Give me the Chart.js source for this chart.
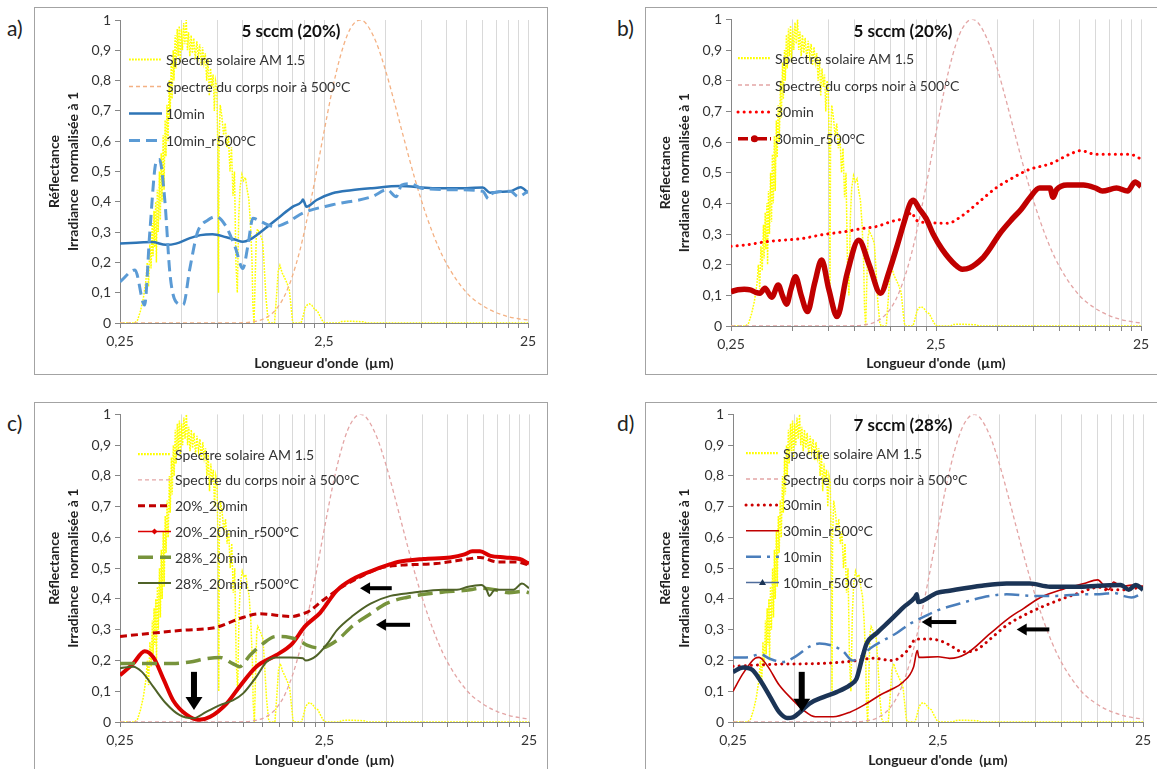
<!DOCTYPE html>
<html>
<head>
<meta charset="utf-8">
<script src="https://cdn.jsdelivr.net/npm/chart.js@4.4.0/dist/chart.umd.min.js"></script>
<style>
body{margin:0;background:#fff;width:1157px;height:769px;position:relative;overflow:hidden;font-family:Lato,sans-serif}
.box{position:absolute}
.frame{position:absolute;border:1.5px solid #a3a3a3;box-sizing:border-box;pointer-events:none}
.tag{position:absolute;font-size:21px;line-height:21px;color:#222}
</style>
</head>
<body>
<div class="frame" style="left:34px;top:7px;width:514px;height:368px"></div>
<div class="frame" style="left:645px;top:7px;width:530px;height:368px"></div>
<div class="frame" style="left:34px;top:402px;width:514px;height:400px"></div>
<div class="frame" style="left:645px;top:402px;width:530px;height:400px"></div>
<div class="tag" style="left:7px;top:17px">a)</div>
<div class="tag" style="left:617px;top:17px">b)</div>
<div class="tag" style="left:7px;top:412px">c)</div>
<div class="tag" style="left:617px;top:412px">d)</div>
<div class="box" style="left:34px;top:7px"><canvas id="ca" width="513" height="367"></canvas></div>
<div class="box" style="left:645px;top:7px"><canvas id="cb" width="512" height="367"></canvas></div>
<div class="box" style="left:34px;top:402px"><canvas id="cc" width="513" height="367"></canvas></div>
<div class="box" style="left:645px;top:402px"><canvas id="cd" width="512" height="367"></canvas></div>
<script>
// axis ticks
const xTicks = [0.25,0.5,0.75,1,1.25,1.5,1.75,2,2.25,2.5,5,7.5,10,12.5,15,17.5,20,22.5,25];
const xLabelled = [0.25,2.5,25];

// spectre solaire AM 1.5 (normalise)
const solarWl = [0.25,0.295,0.305,0.315,0.325,0.335,0.34,0.345,0.35,0.355,0.36,0.363,0.367,0.37,0.374,0.377,0.381,0.385,0.39,0.394,0.398,0.402,0.407,0.411,0.416,0.42,0.425,0.43,0.436,0.44,0.446,0.45,0.456,0.46,0.466,0.47,0.477,0.482,0.488,0.493,0.5,0.506,0.513,0.52,0.528,0.535,0.542,0.55,0.558,0.566,0.575,0.585,0.595,0.605,0.615,0.625,0.635,0.645,0.655,0.665,0.675,0.685,0.695,0.705,0.715,0.725,0.735,0.745,0.755,0.76,0.765,0.775,0.79,0.805,0.82,0.835,0.85,0.865,0.88,0.895,0.91,0.925,0.94,0.955,0.97,0.99,1.01,1.03,1.05,1.07,1.09,1.11,1.12,1.135,1.15,1.165,1.18,1.2,1.22,1.25,1.27,1.3,1.33,1.35,1.43,1.46,1.49,1.52,1.56,1.6,1.65,1.69,1.72,1.75,1.77,1.93,1.97,2.02,2.07,2.12,2.18,2.25,2.32,2.4,2.48,2.55,2.95,3.05,3.3,3.6,3.9,4.05,25];
const solarVal = [0,0,0.01,0.04,0.08,0.14,0.2,0.12,0.26,0.18,0.33,0.22,0.37,0.25,0.4,0.2,0.44,0.3,0.5,0.34,0.56,0.4,0.62,0.44,0.67,0.55,0.72,0.6,0.8,0.68,0.86,0.74,0.9,0.8,0.95,0.84,0.97,0.88,0.98,0.86,0.97,0.9,0.99,0.92,1.0,0.9,0.96,0.88,0.95,0.89,0.94,0.87,0.93,0.88,0.92,0.85,0.91,0.86,0.89,0.8,0.87,0.75,0.84,0.78,0.82,0.7,0.8,0.78,0.55,0.1,0.6,0.72,0.68,0.62,0.66,0.58,0.62,0.5,0.58,0.42,0.5,0.2,0.1,0.35,0.45,0.49,0.47,0.48,0.44,0.41,0.33,0.2,0.06,0,0.15,0.29,0.31,0.3,0.29,0.27,0.2,0.08,0.01,0,0,0.08,0.17,0.19,0.165,0.15,0.13,0.11,0.06,0.01,0,0,0.02,0.05,0.06,0.063,0.058,0.045,0.04,0.02,0.003,0,0,0.005,0.006,0.005,0.004,0,0];

// spectre du corps noir a 500 C (normalise)
const bbWl = [0.25,0.5,0.75,1.0,1.1,1.25,1.4,1.5,1.6,1.75,1.9,2.0,2.25,2.5,2.75,3.0,3.25,3.5,3.75,4.0,4.5,5,5.5,6,7,8,9,10,12.5,15,17.5,20,22.5,25];
const bbVal = [0,0,0,0.001,0.003,0.012,0.033,0.057,0.089,0.155,0.237,0.3,0.467,0.631,0.772,0.878,0.95,0.988,1.0,0.99,0.927,0.835,0.735,0.638,0.472,0.348,0.258,0.194,0.1,0.057,0.034,0.021,0.014,0.01];

// a) 5 sccm (20%)
const a10Wl = [0.25,0.3,0.36,0.42,0.47,0.55,0.62,0.71,0.83,0.92,1.0,1.08,1.26,1.52,1.76,1.94,1.97,2.05,2.3,2.75,3.4,4.3,5.9,8.5,12.5,15,16.3,18,20.5,23,25];
const a10Val = [0.262,0.265,0.267,0.258,0.262,0.28,0.29,0.293,0.283,0.275,0.268,0.275,0.307,0.351,0.384,0.4,0.408,0.384,0.406,0.428,0.438,0.445,0.452,0.445,0.445,0.447,0.43,0.433,0.435,0.448,0.43];
const a10rWl = [0.25,0.296,0.33,0.35,0.376,0.39,0.414,0.44,0.47,0.51,0.55,0.6,0.675,0.74,0.82,0.92,1.0,1.06,1.12,1.23,1.43,1.67,1.97,2.75,4.3,5.1,5.65,6.0,6.6,7.5,10.4,15,16,16.9,20.5,22.4,25];
const a10rVal = [0.136,0.175,0.059,0.3,0.532,0.54,0.41,0.158,0.07,0.06,0.18,0.3,0.34,0.351,0.323,0.248,0.18,0.257,0.346,0.334,0.318,0.334,0.363,0.39,0.417,0.44,0.417,0.455,0.46,0.445,0.44,0.435,0.41,0.43,0.435,0.417,0.435];

// b) 5 sccm (20%)
const b30Wl = [0.25,0.3,0.37,0.45,0.55,0.7,0.88,1.1,1.29,1.5,1.8,1.9,2.0,2.3,2.84,3.36,3.98,4.9,5.8,7.1,9.1,11.2,12.7,15,19,22,25];
const b30Val = [0.26,0.265,0.275,0.28,0.285,0.298,0.307,0.318,0.325,0.34,0.356,0.37,0.345,0.337,0.335,0.36,0.4,0.45,0.48,0.51,0.53,0.56,0.572,0.56,0.56,0.56,0.545];
const b30rWl = [0.25,0.27,0.29,0.31,0.33,0.346,0.366,0.395,0.425,0.445,0.467,0.49,0.516,0.55,0.59,0.64,0.692,0.75,0.823,0.92,1.05,1.18,1.34,1.48,1.61,1.75,1.87,1.94,2.06,2.24,2.42,2.68,3.1,3.36,3.66,4.2,4.5,5.1,5.9,6.5,7.2,8.0,9.0,9.3,9.7,10.9,13.1,15,16.2,19,21.5,23.4,25];
const b30rVal = [0.112,0.118,0.12,0.118,0.11,0.107,0.123,0.094,0.134,0.1,0.071,0.12,0.161,0.1,0.047,0.14,0.215,0.12,0.031,0.17,0.28,0.2,0.107,0.18,0.258,0.34,0.4,0.41,0.385,0.35,0.3,0.25,0.2,0.185,0.19,0.22,0.245,0.3,0.35,0.38,0.42,0.45,0.45,0.42,0.445,0.46,0.46,0.45,0.44,0.45,0.44,0.47,0.455];

// c) 20% et 28%
const c20Wl = [0.25,0.35,0.5,0.74,0.96,1.21,1.51,1.73,1.96,2.1,2.45,3.06,3.7,4.65,6.0,8.8,12.6,14.4,17.6,21.6,25];
const c20Val = [0.278,0.288,0.298,0.308,0.336,0.352,0.346,0.343,0.352,0.36,0.395,0.44,0.47,0.5,0.51,0.515,0.53,0.535,0.52,0.52,0.51];
const c20rWl = [0.25,0.29,0.33,0.364,0.41,0.455,0.53,0.61,0.69,0.83,0.96,1.16,1.45,1.74,2.0,2.38,2.87,3.45,4.2,5.25,5.7,7.6,10.3,12.1,13.2,14.4,16.2,19.1,22.5,25];
const c20rVal = [0.152,0.19,0.23,0.21,0.136,0.07,0.023,0.007,0.017,0.06,0.115,0.18,0.217,0.255,0.31,0.355,0.427,0.465,0.49,0.513,0.52,0.53,0.535,0.545,0.555,0.555,0.54,0.535,0.53,0.515];
const c28Wl = [0.25,0.35,0.45,0.55,0.65,0.77,0.89,0.96,1.08,1.25,1.45,1.69,1.88,2.05,2.38,2.87,3.45,4.2,5.0,6.3,8.8,12.9,14.4,17,19.9,23.6,25];
const c28Val = [0.19,0.19,0.19,0.195,0.205,0.21,0.19,0.18,0.217,0.255,0.278,0.275,0.265,0.25,0.24,0.265,0.314,0.352,0.385,0.405,0.42,0.43,0.435,0.43,0.42,0.425,0.42];
const c28rWl = [0.25,0.29,0.32,0.364,0.42,0.49,0.57,0.66,0.77,0.89,1.0,1.16,1.3,1.45,1.69,1.96,2.02,2.28,2.6,2.87,3.45,4.2,5.25,6.7,9.5,11.1,12.6,14.6,15.5,16,17,21,23.1,25];
const c28rVal = [0.175,0.18,0.163,0.114,0.06,0.022,0.012,0.033,0.055,0.07,0.093,0.147,0.195,0.21,0.21,0.207,0.2,0.215,0.257,0.298,0.346,0.385,0.41,0.42,0.43,0.43,0.44,0.445,0.43,0.41,0.43,0.43,0.45,0.435];

// d) 7 sccm (28%)
const d30Wl = [0.25,0.41,0.66,0.93,1.21,1.5,1.76,1.96,2.28,2.66,2.85,3.3,3.85,4.5,5.4,6.8,8.8,11.9,15.3,16.5,20.4,25];
const d30Val = [0.181,0.188,0.19,0.197,0.207,0.2,0.23,0.27,0.27,0.26,0.25,0.228,0.235,0.27,0.314,0.352,0.385,0.417,0.438,0.43,0.43,0.44];
const d30rWl = [0.25,0.28,0.32,0.335,0.37,0.42,0.49,0.55,0.63,0.77,0.93,1.12,1.3,1.46,1.69,1.9,1.98,2.02,2.5,2.85,3.43,4.5,5.6,6.5,7.9,10.2,12.9,15,17,18,19.6,22,25];
const d30rVal = [0.1,0.158,0.207,0.21,0.18,0.12,0.071,0.039,0.017,0.017,0.032,0.06,0.087,0.104,0.13,0.179,0.232,0.21,0.212,0.207,0.222,0.288,0.34,0.368,0.405,0.432,0.45,0.462,0.43,0.455,0.44,0.445,0.44];
const d10Wl = [0.25,0.29,0.34,0.38,0.44,0.51,0.59,0.66,0.77,0.86,0.96,1.04,1.17,1.35,1.58,1.83,1.96,2.47,3.2,4.1,5.4,7.3,9.5,12.9,15.3,18,20,22,25];
const d10Val = [0.21,0.21,0.22,0.205,0.195,0.215,0.245,0.255,0.247,0.23,0.2,0.21,0.24,0.265,0.29,0.32,0.33,0.362,0.385,0.405,0.415,0.41,0.41,0.415,0.415,0.42,0.41,0.405,0.42];
const d10rWl = [0.25,0.28,0.31,0.34,0.38,0.42,0.46,0.49,0.53,0.59,0.69,0.8,0.93,1.0,1.06,1.12,1.26,1.46,1.69,1.93,1.97,2.0,2.47,2.85,4.1,5.4,7,8.8,11.9,15.3,19.5,21.3,23,25];
const d10rVal = [0.163,0.177,0.17,0.135,0.081,0.032,0.013,0.015,0.032,0.06,0.081,0.097,0.12,0.14,0.2,0.254,0.29,0.33,0.372,0.405,0.415,0.39,0.42,0.427,0.443,0.45,0.45,0.44,0.44,0.443,0.445,0.43,0.445,0.43];

// fleches (longueur d'onde, valeur) : queue -> pointe
const arrowsC = [[0.575,0.163,0.575,0.039],[5.33,0.435,3.73,0.435],[6.55,0.316,4.46,0.316]];
const arrowsD = [[0.541,0.163,0.541,0.033],[3.07,0.325,2.08,0.325],[8.73,0.301,6.05,0.301]];

Chart.defaults.font.family = 'Lato';
Chart.defaults.font.size = 14;
Chart.defaults.color = '#333';

function pts(wl, val) { return wl.map((x, i) => ({x: x, y: val[i]})); }
function fmt(v) {
    if (v === 0) return '0';
    if (Math.abs(v - 1) < 1e-9) return '1';
    return v.toFixed(1).replace('.', ',');
}

function solar() {
    return {label: 'Spectre solaire AM 1.5', data: pts(solarWl, solarVal), borderColor: '#ffff00', borderWidth: 1.5, borderDash: [1.8, 1.2], legendWidth: 2.2, tension: 0};
}
function blackbody(col) {
    return {label: 'Spectre du corps noir à 500°C', data: pts(bbWl, bbVal), borderColor: col, borderWidth: 1.3, borderDash: [4, 3], cubicInterpolationMode: 'monotone'};
}
function meas(label, wl, val, style) {
    return Object.assign({label: label, data: pts(wl, val), cubicInterpolationMode: 'monotone'}, style);
}

function drawArrow(ctx, x1, y1, x2, y2, sw, hl, hw) {
    const ang = Math.atan2(y2 - y1, x2 - x1);
    const len = Math.hypot(x2 - x1, y2 - y1);
    ctx.save();
    ctx.translate(x2, y2);
    ctx.rotate(ang);
    ctx.fillStyle = '#000';
    ctx.fillRect(-len, -sw / 2, len - hl + 1, sw);
    ctx.beginPath();
    ctx.moveTo(0, 0);
    ctx.lineTo(-hl, -hw / 2);
    ctx.lineTo(-hl, hw / 2);
    ctx.closePath();
    ctx.fill();
    ctx.restore();
}

const deco = {
    id: 'panelDeco',
    afterDatasetsDraw(chart, args, o) {
        const ctx = chart.ctx, a = chart.chartArea, sx = chart.scales.x, sy = chart.scales.y;
        ctx.save();
        (o.arrows || []).forEach(ar => {
            const vertical = ar[0] === ar[2];
            drawArrow(ctx, sx.getPixelForValue(ar[0]), sy.getPixelForValue(ar[1]), sx.getPixelForValue(ar[2]), sy.getPixelForValue(ar[3]),
                vertical ? 6 : 4, vertical ? 13 : 10, vertical ? 17 : 12);
        });
        chart.data.datasets.forEach((ds, i) => {
            const yy = a.top + o.legDy + i * o.legGap;
            const x0 = a.left + o.legDx, x1 = x0 + 33;
            ctx.beginPath();
            ctx.setLineDash(ds.legendDash || ds.borderDash || []);
            ctx.lineWidth = ds.legendWidth || ds.borderWidth;
            ctx.strokeStyle = ds.legendColor || ds.borderColor;
            ctx.lineCap = ds.borderCapStyle || 'butt';
            ctx.moveTo(x0, yy);
            ctx.lineTo(x1, yy);
            ctx.stroke();
            ctx.setLineDash([]);
            const mx = (x0 + x1) / 2;
            if (ds.legendMarker === 'circle') {
                ctx.fillStyle = ds.borderColor;
                ctx.beginPath(); ctx.arc(mx, yy, 3.5, 0, Math.PI * 2); ctx.fill();
            } else if (ds.legendMarker === 'diamond') {
                ctx.fillStyle = ds.borderColor;
                ctx.beginPath(); ctx.moveTo(mx, yy - 3); ctx.lineTo(mx + 3, yy); ctx.lineTo(mx, yy + 3); ctx.lineTo(mx - 3, yy); ctx.closePath(); ctx.fill();
            } else if (ds.legendMarker === 'triangle') {
                ctx.fillStyle = ds.borderColor;
                ctx.beginPath(); ctx.moveTo(mx, yy - 3.5); ctx.lineTo(mx + 3.5, yy + 2.5); ctx.lineTo(mx - 3.5, yy + 2.5); ctx.closePath(); ctx.fill();
            }
            ctx.fillStyle = '#333';
            ctx.font = '14px Lato';
            ctx.textAlign = 'left';
            ctx.textBaseline = 'middle';
            ctx.fillText(ds.label, x1 + 4, yy + 1);
        });
        if (o.title) {
            ctx.fillStyle = '#111';
            ctx.font = 'bold 17px Lato';
            ctx.textAlign = 'center';
            ctx.textBaseline = 'middle';
            ctx.fillText(o.title, a.left + o.titleDx, a.top + o.titleDy);
        }
        ctx.restore();
    }
};

function makePanel(id, geo, datasets, opts) {
    datasets.forEach((ds, i) => { ds.order = 10 - i; ds.pointRadius = 0; ds.fill = false; });
    return new Chart(document.getElementById(id), {
        type: 'line',
        data: {datasets: datasets},
        options: {
            responsive: false,
            animation: false,
            events: [],
            layout: {padding: {left: 0, right: geo.padR, top: geo.padT, bottom: 0}},
            plugins: {legend: {display: false}, tooltip: {enabled: false}, panelDeco: opts},
            scales: {
                x: {
                    type: 'logarithmic', min: 0.25, max: 25,
                    afterBuildTicks: s => { s.ticks = xTicks.map(v => ({value: v})); },
                    afterFit: s => { s.height = geo.axisH; },
                    ticks: {autoSkip: false, maxRotation: 0, minRotation: 0, padding: 5, color: '#333',
                        callback: v => xLabelled.includes(v) ? String(v).replace('.', ',') : ''},
                    grid: {color: '#d9d9d9', tickColor: '#868686', tickLength: 5},
                    border: {color: '#868686'},
                    title: {display: true, text: "Longueur d'onde  (µm)", color: '#222',
                        font: {weight: 'bold', size: 14}, padding: {top: 0, bottom: geo.xtPad}}
                },
                y: {
                    min: 0, max: 1,
                    afterFit: s => { s.width = geo.axisW; },
                    ticks: {stepSize: 0.1, padding: 4, color: '#333', callback: v => fmt(v)},
                    grid: {drawOnChartArea: false, tickColor: '#868686', tickLength: 5},
                    border: {color: '#868686'},
                    title: {display: true, text: ['Réflectance', 'Irradiance  normalisée à 1'], color: '#222',
                        font: {weight: 'bold', size: 14, lineHeight: 1.35}, padding: {top: 11.5, bottom: 0}}
                }
            }
        },
        plugins: [deco]
    });
}

makePanel('ca', {axisW: 86, axisH: 51, padR: 19, padT: 13, xtPad: 2.6}, [
    solar(),
    blackbody('#f4b183'),
    meas('10min', a10Wl, a10Val, {borderColor: '#2e75b6', borderWidth: 2.5}),
    meas('10min_r500°C', a10rWl, a10rVal, {borderColor: '#5b9bd5', borderWidth: 3, borderDash: [11, 6]})
], {legDx: 9, legDy: 39.5, legGap: 27, title: '5 sccm (20%)', titleDx: 171, titleDy: 11.5});

makePanel('cb', {axisW: 86, axisH: 48, padR: 16, padT: 12, xtPad: 2.6}, [
    solar(),
    blackbody('#e3a5a5'),
    meas('30min', b30Wl, b30Val, {borderColor: '#ff0000', borderWidth: 3, borderDash: [0.1, 6], borderCapStyle: 'round'}),
    meas('30min_r500°C', b30rWl, b30rVal, {borderColor: '#c00000', borderWidth: 5.5, legendWidth: 3.5, legendDash: [10, 3, 3, 3], legendMarker: 'circle'})
], {legDx: 7, legDy: 38.7, legGap: 26.9, title: '5 sccm (20%)', titleDx: 172, titleDy: 12});

makePanel('cc', {axisW: 86, axisH: 47, padR: 18, padT: 11, xtPad: 0.6}, [
    solar(),
    blackbody('#e3a5a5'),
    meas('20%_20min', c20Wl, c20Val, {borderColor: '#c00000', borderWidth: 3, borderDash: [7, 4]}),
    meas('20%_20min_r500°C', c20rWl, c20rVal, {borderColor: '#dc0000', borderWidth: 4, legendWidth: 1.5, legendMarker: 'diamond'}),
    meas('28%_20min', c28Wl, c28Val, {borderColor: '#77933c', borderWidth: 3.5, borderDash: [15, 7]}),
    meas('28%_20min_r500°C', c28rWl, c28rVal, {borderColor: '#4f6228', borderWidth: 2})
], {legDx: 18, legDy: 39.7, legGap: 25.8, arrows: arrowsC});

makePanel('cd', {axisW: 88, axisH: 47, padR: 14, padT: 11, xtPad: 0.6}, [
    solar(),
    blackbody('#e3a5a5'),
    meas('30min', d30Wl, d30Val, {borderColor: '#cc0000', borderWidth: 3, borderDash: [0.1, 6], borderCapStyle: 'round'}),
    meas('30min_r500°C', d30rWl, d30rVal, {borderColor: '#c00000', borderWidth: 1.6}),
    meas('10min', d10Wl, d10Val, {borderColor: '#4a7ebb', borderWidth: 2.5, borderDash: [15, 6, 3, 6]}),
    meas('10min_r500°C', d10rWl, d10rVal, {borderColor: '#1b3456', borderWidth: 4.5, legendWidth: 1.5, legendColor: '#4f6d9c', legendMarker: 'triangle'})
], {legDx: 13, legDy: 38.7, legGap: 25.9, title: '7 sccm (28%)', titleDx: 170, titleDy: 11.5, arrows: arrowsD});
</script>
</body>
</html>
